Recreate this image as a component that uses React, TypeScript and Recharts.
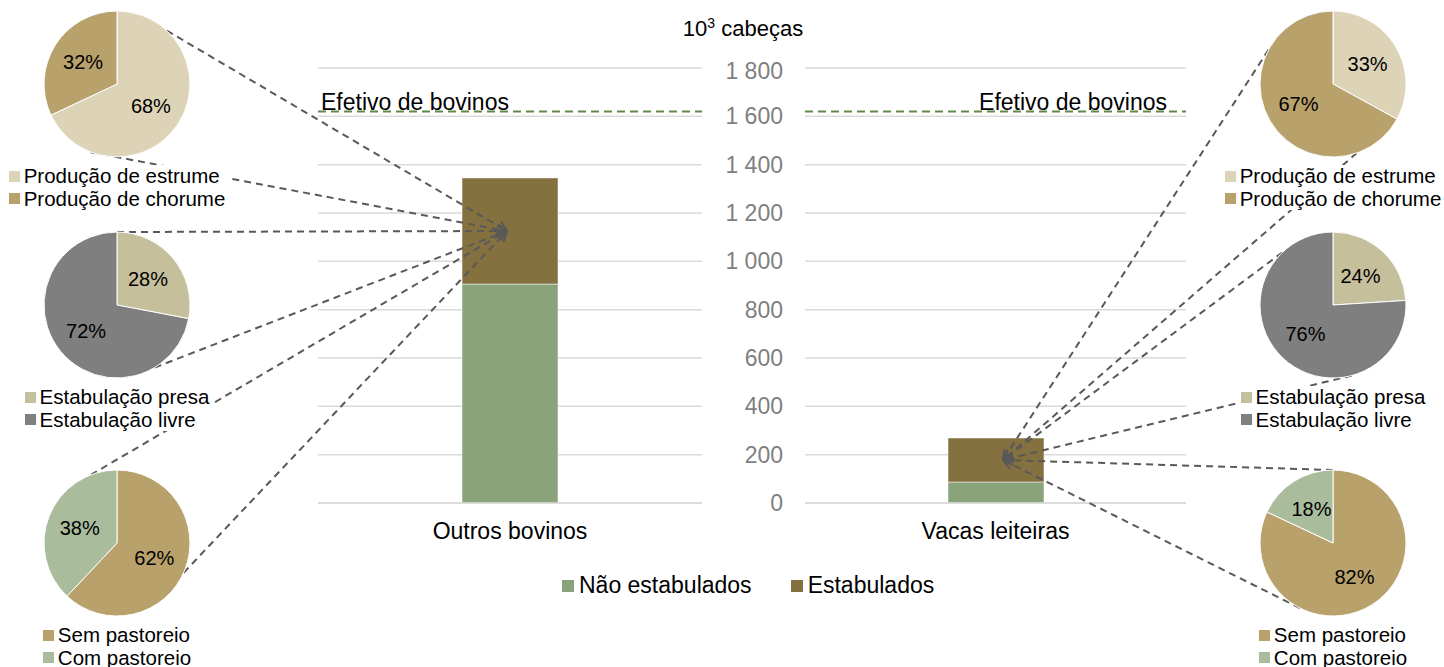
import React from 'react';
import {
  BarChart, Bar, XAxis, YAxis, CartesianGrid, ReferenceLine, PieChart, Pie, Cell
} from 'recharts';

// main bars (10^3 cabeças)
const categories = ['Outros bovinos', 'Vacas leiteiras'];
const naoEstabulados = [906, 87];
const estabulados = [439, 182];
const efetivoBovinos = 1620;
const yTicks = [0, 200, 400, 600, 800, 1000, 1200, 1400, 1600, 1800];

// pies (%)
const gestaoLabels = ['Produção de estrume', 'Produção de chorume'];
const gestaoOutros = [68, 32];
const gestaoVacas = [33, 67];
const estabLabels = ['Estabulação presa', 'Estabulação livre'];
const estabOutros = [28, 72];
const estabVacas = [24, 76];
const pastLabels = ['Sem pastoreio', 'Com pastoreio'];
const pastOutros = [62, 38];
const pastVacas = [82, 18];

const FONT = "'Liberation Sans', Arial, sans-serif";
const C_NAO = '#8aa37b';
const C_EST = '#84713f';
const GRID = '#d9d9d9';
const LINE = '#595959';

const PLOT_TOP = 68;
const PLOT_BOTTOM = 503;
const Y_MAX = 1800;
const yPix = (v: number) => PLOT_BOTTOM - (v / Y_MAX) * (PLOT_BOTTOM - PLOT_TOP);

const R = 73;
const PIE_Y = [84, 305, 543];
const LEFT_X = 117;
const RIGHT_X = 1333;

const pieGroups = [
  { labels: gestaoLabels, colors: ['#ddd4b8', '#b9a16c'], left: gestaoOutros, right: gestaoVacas },
  { labels: estabLabels, colors: ['#c6bf9b', '#7f7f7f'], left: estabOutros, right: estabVacas },
  { labels: pastLabels, colors: ['#b9a16c', '#a9bc9c'], left: pastOutros, right: pastVacas },
];

// where the dashed connectors leave each pie (degrees, counter-clockwise from 3 o'clock)
const leftAngles = [[47, 249], [90, 301], [111, 336]];
const rightAngles = [[152, 289], [134, 285], [90, 243]];

const fmt = (v: number) => (v >= 1000 ? `${Math.floor(v / 1000)} ${String(v % 1000).padStart(3, '0')}` : `${v}`);

const RAD = Math.PI / 180;
const pctLabel = (p: any) => {
  const r = p.outerRadius * 0.55;
  const x = p.cx + r * Math.cos(-p.midAngle * RAD);
  const y = p.cy + r * Math.sin(-p.midAngle * RAD);
  return (
    <text x={x} y={y} textAnchor="middle" dominantBaseline="central" fill="#000" fontSize={20} fontFamily={FONT}>
      {`${p.value}%`}
    </text>
  );
};

const MiniPie = ({ cx, cy, values, colors, labels }: any) => {
  const data = values.map((v: number, i: number) => ({ name: labels[i], value: v }));
  return (
    <div style={{ position: 'absolute', left: cx - 80, top: cy - 80, zIndex: 3 }}>
      <PieChart width={160} height={160} margin={{ top: 0, right: 0, bottom: 0, left: 0 }}>
        <Pie data={data} dataKey="value" cx={80} cy={80} outerRadius={R} startAngle={90} endAngle={-270}
          stroke="#fff" strokeWidth={1} label={pctLabel} labelLine={false} isAnimationActive={false}>
          {data.map((d: any, i: number) => <Cell key={d.name} fill={colors[i]} />)}
        </Pie>
      </PieChart>
    </div>
  );
};

const PieLegend = ({ cx, cy, labels, colors }: any) => (
  <div style={{ position: 'absolute', left: cx - 130, top: cy + 81, width: 260, textAlign: 'center', zIndex: 3 }}>
    <div style={{ display: 'inline-block', textAlign: 'left', background: '#fff', padding: '0 4px' }}>
      {labels.map((l: string, i: number) => (
        <div key={l} style={{ display: 'flex', alignItems: 'center', height: 22.5, fontSize: 20.5, fontFamily: FONT, color: '#000' }}>
          <span style={{ width: 11, height: 11, background: colors[i], marginRight: 4, display: 'inline-block' }} />
          {l}
        </div>
      ))}
    </div>
  </div>
);

const efetivoLabel = (side: 'left' | 'right') => (p: any) => {
  const vb = p.viewBox;
  const x = side === 'left' ? vb.x + 3 : vb.x + vb.width - 19;
  return (
    <text x={x} y={vb.y - 2} textAnchor={side === 'left' ? 'start' : 'end'} fontSize={23} fontFamily={FONT} fill="#000">
      Efetivo de bovinos
    </text>
  );
};

const BarPanel = ({ idx, left, width, showAxis }: any) => {
  const data = [{ name: categories[idx], nao: naoEstabulados[idx], est: estabulados[idx] }];
  return (
    <div style={{ position: 'absolute', left, top: PLOT_TOP - 10, zIndex: 1 }}>
      <BarChart width={width} height={500} data={data} margin={{ top: 10, right: 0, left: 0, bottom: 0 }}>
        <CartesianGrid vertical={false} stroke={GRID} strokeWidth={1.5} />
        <XAxis dataKey="name" height={55} tickLine={false} axisLine={{ stroke: GRID, strokeWidth: 1.5 }}
          tickMargin={14} tick={{ fill: '#000', fontSize: 23, fontFamily: FONT }} />
        <YAxis domain={[0, Y_MAX]} ticks={yTicks} hide={!showAxis} width={103} tickLine={false} axisLine={false}
          tickMargin={16} tickFormatter={fmt} tick={{ fill: '#7f7f7f', fontSize: 23, fontFamily: FONT }} />
        <ReferenceLine y={efetivoBovinos} stroke="#5f8a46" strokeWidth={2} strokeDasharray="8 5"
          label={efetivoLabel(showAxis ? 'right' : 'left')} />
        <Bar dataKey="nao" stackId="a" fill={C_NAO} barSize={96} stroke="#fff" strokeWidth={0.5} isAnimationActive={false} />
        <Bar dataKey="est" stackId="a" fill={C_EST} barSize={96} stroke="#fff" strokeWidth={0.5} isAnimationActive={false} />
      </BarChart>
    </div>
  );
};

const App = () => {
  const tips = [
    { x: 510 - 3, y: yPix(naoEstabulados[0] + estabulados[0] / 2), px: LEFT_X, angles: leftAngles },
    { x: 995 + 8, y: yPix(naoEstabulados[1] + estabulados[1] / 2), px: RIGHT_X, angles: rightAngles },
  ];
  return (
    <div style={{ position: 'absolute', left: 0, top: 0, width: 1444, height: 667, background: '#fff', fontFamily: FONT }}>
      <BarPanel idx={0} left={318} width={384} showAxis={false} />
      <BarPanel idx={1} left={702} width={484} showAxis={true} />

      <svg width={1444} height={667} style={{ position: 'absolute', left: 0, top: 0, zIndex: 2, pointerEvents: 'none' }}>
        <defs>
          <marker id="arr" viewBox="0 0 12 12" refX="11" refY="6" markerWidth="12" markerHeight="12"
            markerUnits="userSpaceOnUse" orient="auto">
            <path d="M1,1 L11,6 L1,11" fill="none" stroke={LINE} strokeWidth={2} />
          </marker>
        </defs>
        <text x={743} y={36} textAnchor="middle" fontSize={22} fontFamily={FONT} fill="#000">
          10<tspan dy={-8} fontSize={14}>3</tspan><tspan dy={8}> cabeças</tspan>
        </text>
        {tips.map((t, s) =>
          t.angles.map((pair, k) =>
            pair.map((a, j) => (
              <line key={`${s}-${k}-${j}`}
                x1={t.px + R * Math.cos(a * RAD)} y1={PIE_Y[k] - R * Math.sin(a * RAD)}
                x2={t.x} y2={t.y} stroke={LINE} strokeWidth={2} strokeDasharray="7 5" markerEnd="url(#arr)" />
            ))
          )
        )}
      </svg>

      {pieGroups.map((g, k) => (
        <React.Fragment key={k}>
          <MiniPie cx={LEFT_X} cy={PIE_Y[k]} values={g.left} colors={g.colors} labels={g.labels} />
          <MiniPie cx={RIGHT_X} cy={PIE_Y[k]} values={g.right} colors={g.colors} labels={g.labels} />
          <PieLegend cx={LEFT_X} cy={PIE_Y[k]} labels={g.labels} colors={g.colors} />
          <PieLegend cx={RIGHT_X} cy={PIE_Y[k]} labels={g.labels} colors={g.colors} />
        </React.Fragment>
      ))}

      <div style={{ position: 'absolute', left: 562, top: 572, display: 'flex', alignItems: 'center', fontSize: 23, zIndex: 3 }}>
        <span style={{ width: 12, height: 12, background: C_NAO, marginRight: 5 }} />
        <span>Não estabulados</span>
        <span style={{ width: 12, height: 12, background: C_EST, marginLeft: 39, marginRight: 5 }} />
        <span>Estabulados</span>
      </div>
    </div>
  );
};

export default App;
